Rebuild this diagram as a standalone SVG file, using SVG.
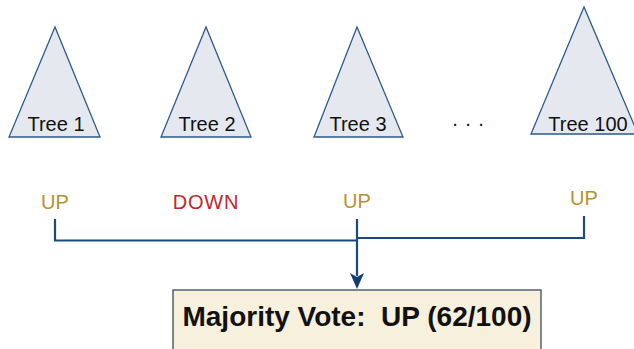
<svg xmlns="http://www.w3.org/2000/svg" width="634" height="349" viewBox="0 0 634 349">
<style>
.tree{fill:#e5e9ef;stroke:#2c5a8c;stroke-width:1.3;stroke-linejoin:miter}
.lbl{font-family:"Liberation Sans",Arial,sans-serif;font-size:20px;fill:#111;text-anchor:middle}
.up{font-family:"Liberation Sans",Arial,sans-serif;font-size:20px;fill:#b8912f;text-anchor:middle}
.down{font-family:"Liberation Sans",Arial,sans-serif;font-size:20px;fill:#c1272d;text-anchor:middle;letter-spacing:0.8px}
.conn{fill:none;stroke:#1b4a80;stroke-width:2.2}
.box{fill:#f7f0dd;stroke:#3a4a5e;stroke-width:1.3}
.bold{font-family:"Liberation Sans",Arial,sans-serif;font-size:28px;font-weight:bold;fill:#111;text-anchor:middle}
</style>
<g id="tree1"><polygon class="tree" points="55,27 9,137 100,137"/><text class="lbl" x="56" y="131">Tree 1</text></g>
<g id="tree2"><polygon class="tree" points="206,27 161,137 251,137"/><text class="lbl" x="207" y="131">Tree 2</text></g>
<g id="tree3"><polygon class="tree" points="357,27 314,137 403,137"/><text class="lbl" x="358" y="131">Tree 3</text></g>
<g id="dots"><text class="lbl" x="455 468 481" y="130">···</text></g>
<g id="tree100"><polygon class="tree" points="584,7 531,134 638,134"/><text class="lbl" x="588" y="131">Tree 100</text></g>
<g id="vote1"><text class="up" x="55" y="209">UP</text></g>
<g id="vote2"><text class="down" x="206" y="209">DOWN</text></g>
<g id="vote3"><text class="up" x="357" y="208">UP</text></g>
<g id="vote100"><text class="up" x="584" y="205">UP</text></g>
<g id="connectors">
<path class="conn" d="M55,219 V240.5 H357"/>
<path class="conn" d="M584,216 V238 H357"/>
<path class="conn" d="M357,219 V276"/>
<path d="M350,273 L357,277 L364,273 L357,289 Z" fill="#123d73"/>
</g>
<g id="result"><rect class="box" x="173" y="290" width="368" height="70"/><text class="bold" x="357" y="326" xml:space="preserve">Majority Vote:  UP (62/100)</text></g>
</svg>
